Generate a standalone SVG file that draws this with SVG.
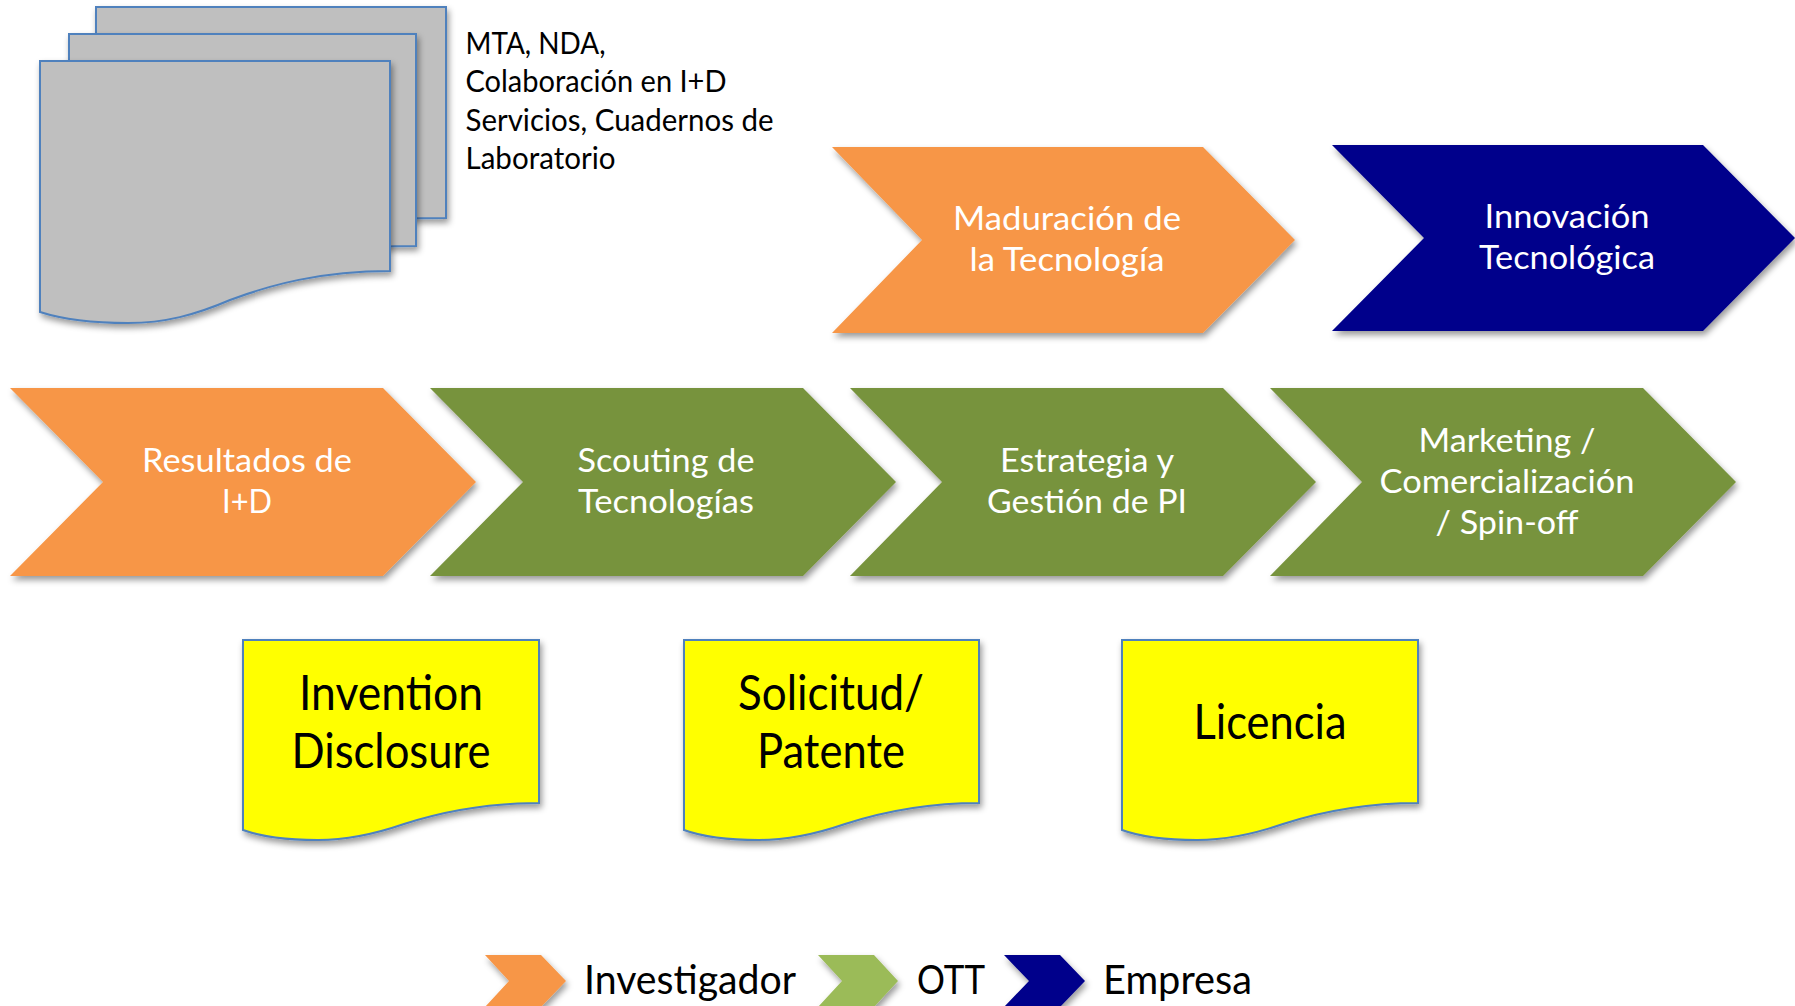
<svg xmlns="http://www.w3.org/2000/svg" width="1795" height="1006" viewBox="0 0 1795 1006">
<style>
text{font-family:Lato,"Open Sans","Liberation Sans",sans-serif;text-anchor:middle}
.w{fill:#fff;font-size:33px}
.k{fill:#000;font-size:48px}
.l{fill:#000;font-size:40px;text-anchor:start}
.t{fill:#000;font-size:31px;text-anchor:start}
.o{fill:#F79646}.g{fill:#77933C}.n{fill:#00008B}.lg{fill:#9BBB59}
.doc{stroke:#4F81BD;stroke-width:2;stroke-linejoin:miter}
.grey{fill:#BFBFBF}.yel{fill:#FFFF00}
</style>
<defs>
<filter id="s" x="-10%" y="-10%" width="125%" height="125%"><feDropShadow dx="2" dy="4" stdDeviation="3" flood-color="#000" flood-opacity="0.4"/></filter>
</defs>
<rect width="1795" height="1006" fill="#fff"/>
<g id="connectors"/>
<g id="doc-back"><path class="doc grey" filter="url(#s)" d="M96,7H446V218C360,218 320,224 290,228H96Z"/></g>
<g id="doc-mid"><path class="doc grey" filter="url(#s)" d="M69,34H416V246C340,246 310,252 280,256H69Z"/></g>
<g id="doc-front"><path class="doc grey" filter="url(#s)" d="M40,61H390V271C320,271 270,285 230,300C195,315 165,323 128,323C95,323 65,320 40,312Z"/></g>
<g id="doc-label"><text class="t" x="465.500" y="54" textLength="140" lengthAdjust="spacingAndGlyphs">MTA, NDA,</text><text class="t" x="465.500" y="92" textLength="261" lengthAdjust="spacingAndGlyphs">Colaboración en I+D</text><text class="t" x="465.500" y="131" textLength="308" lengthAdjust="spacingAndGlyphs">Servicios, Cuadernos de</text><text class="t" x="465.500" y="169" textLength="150" lengthAdjust="spacingAndGlyphs">Laboratorio</text></g>
<g id="maduracion"><polygon class="o" filter="url(#s)" points="832,147 1203,147 1295,240 1203,333 832,333 922,240"/><text class="w" x="1067" y="230" textLength="228" lengthAdjust="spacingAndGlyphs">Maduración de</text><text class="w" x="1067" y="271" textLength="195" lengthAdjust="spacingAndGlyphs">la Tecnología</text></g>
<g id="innovacion"><polygon class="n" filter="url(#s)" points="1332,145 1703,145 1795,238 1703,331 1332,331 1424,238"/><text class="w" x="1567" y="228" textLength="165" lengthAdjust="spacingAndGlyphs">Innovación</text><text class="w" x="1567" y="269" textLength="176" lengthAdjust="spacingAndGlyphs">Tecnológica</text></g>
<g id="resultados"><polygon class="o" filter="url(#s)" points="10,388 383,388 476,482 383,576 10,576 103,482"/><text class="w" x="247" y="472" textLength="210" lengthAdjust="spacingAndGlyphs">Resultados de</text><text class="w" x="247" y="513" textLength="50" lengthAdjust="spacingAndGlyphs">I+D</text></g>
<g id="scouting"><polygon class="g" filter="url(#s)" points="430,388 803,388 896,482 803,576 430,576 523,482"/><text class="w" x="666" y="472" textLength="177" lengthAdjust="spacingAndGlyphs">Scouting de</text><text class="w" x="666" y="513" textLength="176" lengthAdjust="spacingAndGlyphs">Tecnologías</text></g>
<g id="estrategia"><polygon class="g" filter="url(#s)" points="850,388 1223,388 1316,482 1223,576 850,576 942,482"/><text class="w" x="1087" y="472" textLength="174" lengthAdjust="spacingAndGlyphs">Estrategia y</text><text class="w" x="1087" y="513" textLength="200" lengthAdjust="spacingAndGlyphs">Gestión de PI</text></g>
<g id="marketing"><polygon class="g" filter="url(#s)" points="1270,388 1643,388 1736,482 1643,576 1270,576 1362,482"/><text class="w" x="1507" y="452" textLength="177" lengthAdjust="spacingAndGlyphs">Marketing /</text><text class="w" x="1507" y="493" textLength="255" lengthAdjust="spacingAndGlyphs">Comercialización</text><text class="w" x="1507" y="534" textLength="143" lengthAdjust="spacingAndGlyphs">/ Spin-off</text></g>
<g id="invention"><path class="doc yel" filter="url(#s)" d="M243,640H539V803C480,803 438,813 404,824C375,834 349,840 318,840C290,840 265,838 243,830Z"/><text class="k" x="391" y="710" textLength="184" lengthAdjust="spacingAndGlyphs">Invention</text><text class="k" x="391" y="768" textLength="199" lengthAdjust="spacingAndGlyphs">Disclosure</text></g>
<g id="solicitud"><path class="doc yel" filter="url(#s)" d="M684,640H979V803C921,803 879,813 845,824C816,834 790,840 759,840C731,840 706,838 684,830Z"/><text class="k" x="831" y="710" textLength="186" lengthAdjust="spacingAndGlyphs">Solicitud/</text><text class="k" x="831" y="768" textLength="148" lengthAdjust="spacingAndGlyphs">Patente</text></g>
<g id="licencia"><path class="doc yel" filter="url(#s)" d="M1122,640H1418V803C1359,803 1317,813 1283,824C1254,834 1228,840 1197,840C1169,840 1144,838 1122,830Z"/><text class="k" x="1270" y="739" textLength="153" lengthAdjust="spacingAndGlyphs">Licencia</text></g>
<g id="legend-investigador"><polygon class="o" filter="url(#s)" points="485,955 541,955 566,981 541,1007 485,1007 509,981"/><text class="l" x="584" y="994" textLength="212" lengthAdjust="spacingAndGlyphs">Investigador</text></g>
<g id="legend-ott"><polygon class="lg" filter="url(#s)" points="818,955 874,955 898,981 874,1007 818,1007 842,981"/><text class="l" x="917" y="994" textLength="68" lengthAdjust="spacingAndGlyphs">OTT</text></g>
<g id="legend-empresa"><polygon class="n" filter="url(#s)" points="1004,955 1060,955 1085,981 1060,1007 1004,1007 1029,981"/><text class="l" x="1103" y="994" textLength="149" lengthAdjust="spacingAndGlyphs">Empresa</text></g>
</svg>
